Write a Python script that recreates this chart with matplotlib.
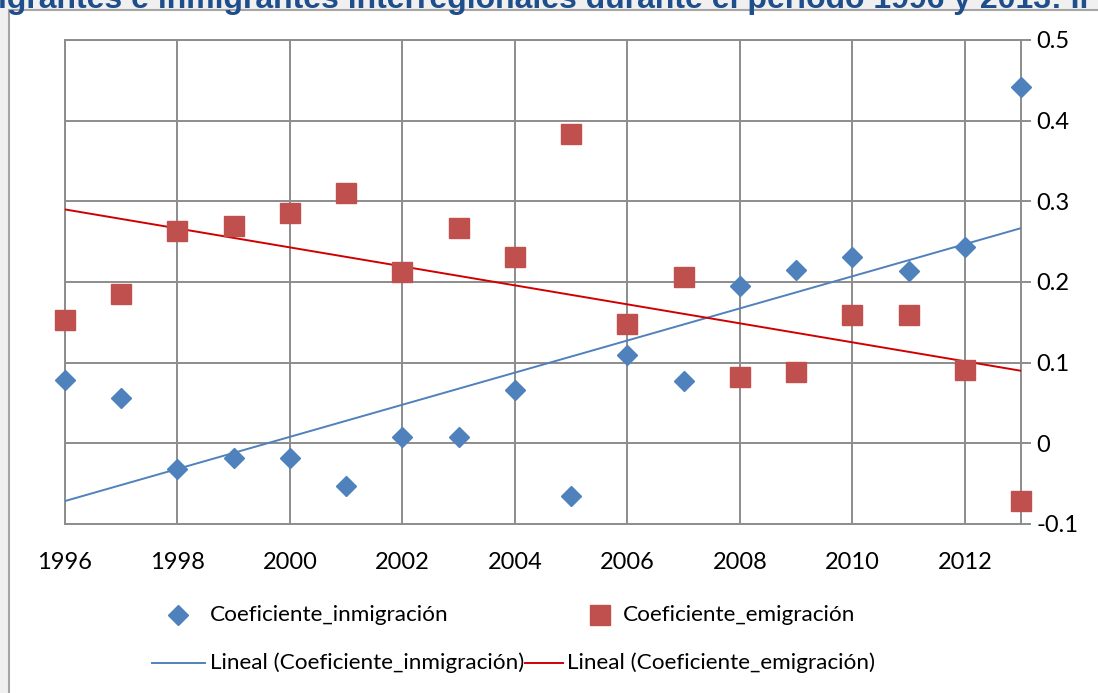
import numpy as np
import matplotlib
matplotlib.use("Agg")
import matplotlib.pyplot as plt
from matplotlib.lines import Line2D
from matplotlib.patches import Rectangle

plt.rcParams['font.family'] = ['Lato', 'DejaVu Sans']

years = [1996, 1997, 1998, 1999, 2000, 2001, 2002, 2003, 2004, 2005,
         2006, 2007, 2008, 2009, 2010, 2011, 2012, 2013]
inmigracion = [0.078, 0.056, -0.032, -0.018, -0.018, -0.053, 0.008, 0.008, 0.066, -0.065,
               0.110, 0.077, 0.195, 0.215, 0.231, 0.214, 0.243, 0.442]
emigracion = [0.153, 0.185, 0.263, 0.269, 0.285, 0.310, 0.212, 0.267, 0.231, 0.383,
              0.148, 0.206, 0.082, 0.088, 0.159, 0.159, 0.091, -0.072]
xticks = [1996, 1998, 2000, 2002, 2004, 2006, 2008, 2010, 2012]
yticks = [-0.1, 0, 0.1, 0.2, 0.3, 0.4, 0.5]
ytick_labels = ['-0.1', '0', '0.1', '0.2', '0.3', '0.4', '0.5']
title_text = "igrantes e inmigrantes interregionales durante el periodo 1996 y 2013: Il"
labels = ["Coeficiente_inmigración", "Coeficiente_emigración",
          "Lineal (Coeficiente_inmigración)", "Lineal (Coeficiente_emigración)"]

W, H = 1098, 693
fig = plt.figure(figsize=(W / 100, H / 100), dpi=100)
fig.patch.set_facecolor('#f0f0f0')

def fx(px):
    return px / W

def fy(py):
    return 1 - py / H

# chart area panel
fig.add_artist(Rectangle((fx(9), fy(H + 5)), fx(W + 10 - 9), fy(10) - fy(H + 5),
                         transform=fig.transFigure, facecolor='white',
                         edgecolor='#a6a6a6', linewidth=1.5, zorder=0))

fig.text(fx(-2), fy(8), title_text, fontsize=23, fontweight='bold',
         color='#1f4e8c', family=['Liberation Sans', 'DejaVu Sans'],
         va='baseline', ha='left')

ax = fig.add_axes([fx(65), fy(524), fx(1021) - fx(65), fy(40) - fy(524)])
ax.set_facecolor('none')

blue = '#4f81bd'
red_m = '#c0504d'
red_l = '#d10000'
gray = '#8c8c8c'

x = np.array(years, dtype=float)
bi = np.polyfit(x, inmigracion, 1)
be = np.polyfit(x, emigracion, 1)
xl = np.array([1996, 2013], dtype=float)

ax.plot(xl, np.polyval(bi, xl), color=blue, lw=1.4, zorder=3)
ax.plot(xl, np.polyval(be, xl), color=red_l, lw=1.4, zorder=3)
ax.plot(years, inmigracion, 'D', color=blue, ms=10.5, mec=blue, zorder=4, clip_on=False)
ax.plot(years, emigracion, 's', color=red_m, ms=14, mec=red_m, zorder=4, clip_on=False)

ax.set_xlim(1996, 2013)
ax.set_ylim(-0.1, 0.5)
ax.set_xticks(xticks)
ax.set_yticks(yticks)
ax.set_yticklabels(ytick_labels)
ax.grid(True, color=gray, lw=1.4, zorder=1)
ax.set_axisbelow(True)
for s in ax.spines.values():
    s.set_color(gray)
    s.set_linewidth(1.4)
ax.yaxis.tick_right()
ax.tick_params(axis='y', length=7, width=1.4, color=gray, pad=4, labelsize=17)
ax.tick_params(axis='x', length=0, pad=20, labelsize=17)

# legend
fs = 16.2
fig.add_artist(Line2D([fx(178)], [fy(615)], marker='D', ms=10.5, color=blue,
                      transform=fig.transFigure, linestyle='none'))
fig.text(fx(210), fy(615), labels[0], fontsize=fs, va='center', ha='left')
fig.add_artist(Line2D([fx(600)], [fy(615)], marker='s', ms=14, color=red_m,
                      transform=fig.transFigure, linestyle='none'))
fig.text(fx(623), fy(615), labels[1], fontsize=fs, va='center', ha='left')
fig.add_artist(Line2D([fx(152), fx(205)], [fy(663), fy(663)], color=blue, lw=1.4,
                      transform=fig.transFigure))
fig.text(fx(210), fy(663), labels[2], fontsize=fs, va='center', ha='left')
fig.add_artist(Line2D([fx(525), fx(563)], [fy(663), fy(663)], color=red_l, lw=1.4,
                      transform=fig.transFigure))
fig.text(fx(567), fy(663), labels[3], fontsize=fs, va='center', ha='left')

fig.savefig('out.png', dpi=100, facecolor=fig.get_facecolor())
